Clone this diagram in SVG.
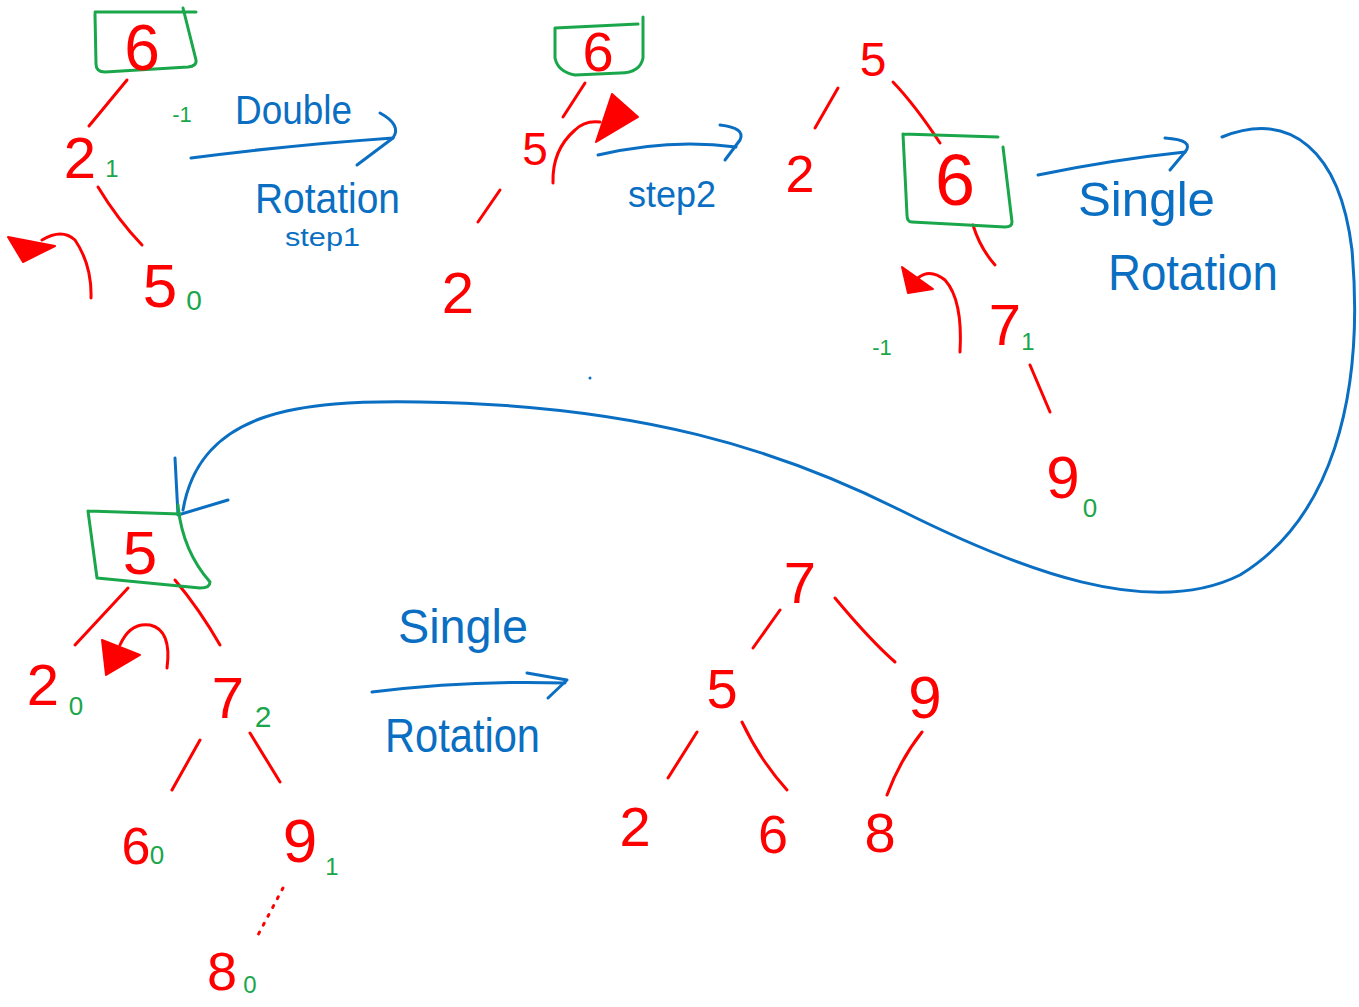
<svg xmlns="http://www.w3.org/2000/svg" width="1359" height="1007" viewBox="0 0 1359 1007">
<style>
.n{font-family:"Liberation Sans",Arial,sans-serif;fill:#ff0000;text-anchor:middle}
.g{font-family:"Liberation Sans",Arial,sans-serif;fill:#1aa64a;text-anchor:middle}
.b{font-family:"Liberation Sans",Arial,sans-serif;fill:#0a6fc2}
.e{fill:none;stroke:#ff0000;stroke-width:3;stroke-linecap:round;stroke-linejoin:round}
.box{fill:none;stroke:#1aa64a;stroke-width:3;stroke-linecap:round;stroke-linejoin:round}
.bl{fill:none;stroke:#0a6fc2;stroke-width:3;stroke-linecap:round;stroke-linejoin:round}
.tri{fill:#ff0000;stroke:#ff0000;stroke-width:2;stroke-linejoin:round}
</style>
<rect width="1359" height="1007" fill="#ffffff"/>

<g id="connectors">
  <!-- panel 1 -->
  <path class="e" d="M127,80 L89,126"/>
  <path class="e" d="M98,187 Q118,220 142,245"/>
  <!-- panel 2 -->
  <path class="e" d="M585,83 L563,117"/>
  <path class="e" d="M500,190 L478,222"/>
  <!-- panel 3 -->
  <path class="e" d="M838,88 L815,128"/>
  <path class="e" d="M893,82 Q915,105 940,143"/>
  <path class="e" d="M973,225 Q980,248 995,265"/>
  <path class="e" d="M1030,365 L1050,412"/>
  <!-- panel 4 -->
  <path class="e" d="M128,588 L75,645"/>
  <path class="e" d="M175,580 Q200,610 220,645"/>
  <path class="e" d="M200,740 L172,790"/>
  <path class="e" d="M250,733 L280,782"/>
  <path class="e" d="M283,888 L258,935" stroke-dasharray="2,8"/>
  <!-- panel 5 -->
  <path class="e" d="M780,610 L753,648"/>
  <path class="e" d="M835,598 Q870,640 895,662"/>
  <path class="e" d="M697,732 L668,778"/>
  <path class="e" d="M742,722 Q760,760 787,790"/>
  <path class="e" d="M922,732 Q900,760 887,795"/>
  <!-- red rotation arrows -->
  <path class="e" d="M91,298 Q92,265 75,240 Q62,228 42,240"/>
  <path class="tri" d="M8,237 L55,246 L23,262 Z"/>
  <path class="e" d="M553,183 Q552,150 575,130 Q585,120 600,122"/>
  <path class="tri" d="M612,94 L638,117 L596,142 Z"/>
  <path class="e" d="M960,352 Q963,300 945,280 Q930,268 918,278"/>
  <path class="tri" d="M902,267 L933,289 L908,293 Z"/>
  <path class="e" d="M167,668 Q172,630 150,625 Q130,622 120,645"/>
  <path class="tri" d="M102,640 L140,655 L106,675 Z"/>
  <!-- blue arrows -->
  <path class="bl" d="M191,158 Q290,145 393,138"/>
  <path class="bl" d="M380,113 Q402,125 393,138 L357,165"/>
  <path class="bl" d="M598,155 Q670,138 736,147"/>
  <path class="bl" d="M720,125 Q746,128 740,140 L725,160"/>
  <path class="bl" d="M1038,175 Q1110,160 1185,152"/>
  <path class="bl" d="M1165,138 Q1195,140 1185,152 L1170,170"/>
  <path class="bl" d="M372,692 Q470,680 565,683"/>
  <path class="bl" d="M527,673 L567,680 L548,698"/>
  <path class="bl" d="M1222,137 C1290,110 1340,150 1352,250 C1365,400 1330,520 1240,575 C1150,620 1020,570 900,510 C780,450 640,405 420,402 C300,400 200,410 183,510"/>
  <path class="bl" d="M175,458 L178,515 L228,500"/>
  <circle cx="590" cy="378" r="1.5" fill="#0a6fc2"/>
</g>

<!-- labels -->
<g id="labels">
  <text class="g" x="182" y="122" font-size="22">-1</text>
  <text class="b" x="235" y="124" font-size="40" textLength="117" lengthAdjust="spacingAndGlyphs">Double</text>
  <text class="b" x="255" y="213" font-size="42" textLength="145" lengthAdjust="spacingAndGlyphs">Rotation</text>
  <text class="b" x="285" y="246" font-size="26" textLength="75" lengthAdjust="spacingAndGlyphs">step1</text>
  <text class="b" x="628" y="207" font-size="36" textLength="88" lengthAdjust="spacingAndGlyphs">step2</text>
  <text class="b" x="1078" y="216" font-size="48" textLength="137" lengthAdjust="spacingAndGlyphs">Single</text>
  <text class="b" x="1108" y="290" font-size="50" textLength="170" lengthAdjust="spacingAndGlyphs">Rotation</text>
  <text class="g" x="882" y="355" font-size="22">-1</text>
  <text class="b" x="398" y="643" font-size="48" textLength="130" lengthAdjust="spacingAndGlyphs">Single</text>
  <text class="b" x="385" y="752" font-size="48" textLength="155" lengthAdjust="spacingAndGlyphs">Rotation</text>
</g>

<!-- panel 1 -->
<g id="p1-n6">
  <path class="box" d="M95,12 L196,12 M183,8 L196,60 Q197,66 188,67 L105,72 Q96,72 96,64 L95,14"/>
  <text class="n" x="142" y="70" font-size="64">6</text>
</g>
<g id="p1-n2">
  <text class="n" x="80" y="178" font-size="58">2</text>
  <text class="g" x="112" y="177" font-size="24">1</text>
</g>
<g id="p1-n5">
  <text class="n" x="160" y="307" font-size="62">5</text>
  <text class="g" x="194" y="310" font-size="28">0</text>
</g>

<!-- panel 2 -->
<g id="p2-n6">
  <path class="box" d="M555,28 L638,24 M643,17 L643,58 Q640,73 620,73 L575,75 Q558,72 555,58 L555,28"/>
  <text class="n" x="598" y="71" font-size="56">6</text>
</g>
<g id="p2-n5">
  <text class="n" x="535" y="165" font-size="46">5</text>
</g>
<g id="p2-n2">
  <text class="n" x="458" y="313" font-size="58">2</text>
</g>

<!-- panel 3 -->
<g id="p3-n5">
  <text class="n" x="873" y="76" font-size="48">5</text>
</g>
<g id="p3-n2">
  <text class="n" x="800" y="192" font-size="52">2</text>
</g>
<g id="p3-n6">
  <path class="box" d="M903,134 L998,137 M1003,147 L1012,222 Q1012,227 1005,227 L912,222 Q907,222 907,215 L903,134"/>
  <text class="n" x="955" y="205" font-size="72">6</text>
</g>
<g id="p3-n7">
  <text class="n" x="1005" y="345" font-size="58">7</text>
  <text class="g" x="1028" y="350" font-size="24">1</text>
</g>
<g id="p3-n9">
  <text class="n" x="1063" y="498" font-size="60">9</text>
  <text class="g" x="1090" y="517" font-size="26">0</text>
</g>

<!-- panel 4 -->
<g id="p4-n5">
  <path class="box" d="M88,511 L180,514 M178,505 Q182,550 210,582 Q210,588 200,588 L97,578 L88,511"/>
  <text class="n" x="140" y="574" font-size="62">5</text>
</g>
<g id="p4-n2">
  <text class="n" x="43" y="705" font-size="58">2</text>
  <text class="g" x="76" y="715" font-size="26">0</text>
</g>
<g id="p4-n7">
  <text class="n" x="228" y="718" font-size="58">7</text>
  <text class="g" x="263" y="727" font-size="30">2</text>
</g>
<g id="p4-n6">
  <text class="n" x="136" y="864" font-size="52">6</text>
  <text class="g" x="157" y="864" font-size="26">0</text>
</g>
<g id="p4-n9">
  <text class="n" x="300" y="862" font-size="62">9</text>
  <text class="g" x="332" y="875" font-size="24">1</text>
</g>
<g id="p4-n8">
  <text class="n" x="222" y="990" font-size="54">8</text>
  <text class="g" x="250" y="993" font-size="24">0</text>
</g>

<!-- panel 5 -->
<g id="p5-n7"><text class="n" x="800" y="603" font-size="58">7</text></g>
<g id="p5-n5"><text class="n" x="722" y="708" font-size="56">5</text></g>
<g id="p5-n9"><text class="n" x="925" y="718" font-size="60">9</text></g>
<g id="p5-n2"><text class="n" x="635" y="846" font-size="56">2</text></g>
<g id="p5-n6"><text class="n" x="773" y="853" font-size="54">6</text></g>
<g id="p5-n8"><text class="n" x="880" y="852" font-size="56">8</text></g>
</svg>
